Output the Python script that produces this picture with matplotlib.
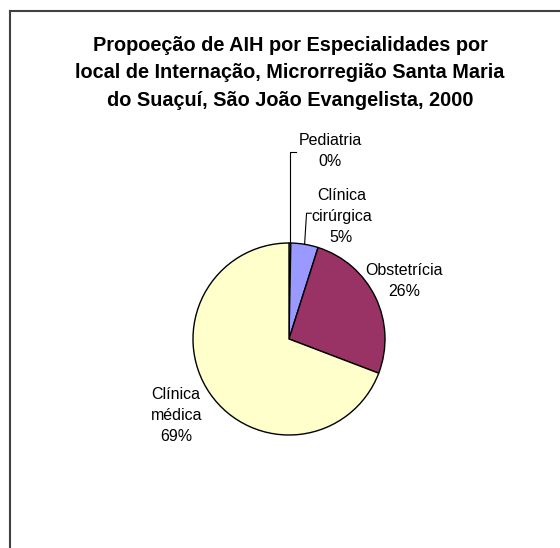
import matplotlib
matplotlib.use("Agg")
import matplotlib.pyplot as plt
import numpy as np
from matplotlib.lines import Line2D

categories = ["Pediatria", "Clínica\ncirúrgica", "Obstetrícia", "Clínica\nmédica"]
values = [0.3, 4.6, 25.9, 69.2]
colors = ["#CCFFFF", "#9999FF", "#993366", "#FFFFCC"]
title = "Propoeção de AIH por Especialidades por\nlocal de Internação, Microrregião Santa Maria\ndo Suaçuí, São João Evangelista, 2000"

plt.rcParams['font.family'] = ['Liberation Sans', 'DejaVu Sans']

W, H = 560, 548
fig = plt.figure(figsize=(W / 100, H / 100), dpi=100)
fig.patch.set_facecolor("white")

# pie center in pixels and radius
cx, cy, R = 289, 339, 96
ax = fig.add_axes([0, 0, 1, 1])

wedges, _ = ax.pie(values, colors=colors, startangle=90, counterclock=False,
                   radius=1, center=(0, 0),
                   wedgeprops=dict(edgecolor="black", linewidth=1.0))
ax.set_xlim(-cx / R, (W - cx) / R)
ax.set_ylim(-(H - cy) / R, cy / R)
ax.set_aspect("equal")
ax.axis("off")

total = sum(values)
pct = [f"{round(v / total * 100):.0f}%" for v in values]

# label positions (data units) and leader-line info
label_pos = [(0.43, 1.96), (0.545, 1.28), (1.20, 0.60), (-1.175, -0.795)]
leader = [True, True, False, False]
for w, cat, p, (lx, ly), ld in zip(wedges, categories, pct, label_pos, leader):
    ax.text(lx, ly, f"{cat}\n{p}", ha="center", va="center", fontsize=11.5,
            linespacing=1.5, color="black")
    if ld:
        mid = np.deg2rad((w.theta1 + w.theta2) / 2)
        x0, y0 = np.cos(mid), np.sin(mid)
        if cat == "Pediatria":
            ytop = 1.948
            xs = [x0, x0, x0 + 0.06]
            ys = [y0, ytop, ytop]
        else:
            ytop = 1.31
            xs = [x0, x0 + 0.02, x0 + 0.07]
            ys = [y0, ytop, ytop]
        ax.add_line(Line2D(xs, ys, color="black", linewidth=0.8))

fig.text(290 / W, 1 - 73 / H, title, ha="center", va="center", fontsize=14.3,
         fontweight="bold", linespacing=1.55)

# chart-area frame (top and left edges visible)
fx, fy = 9.5 / W, 1 - 10.5 / H
fig.add_artist(Line2D([fx, 1.0], [fy, fy], transform=fig.transFigure, color="#404040", linewidth=1.5))
fig.add_artist(Line2D([fx, fx], [0, fy], transform=fig.transFigure, color="#404040", linewidth=1.5))

fig.savefig("out.png", dpi=100, facecolor="white")
